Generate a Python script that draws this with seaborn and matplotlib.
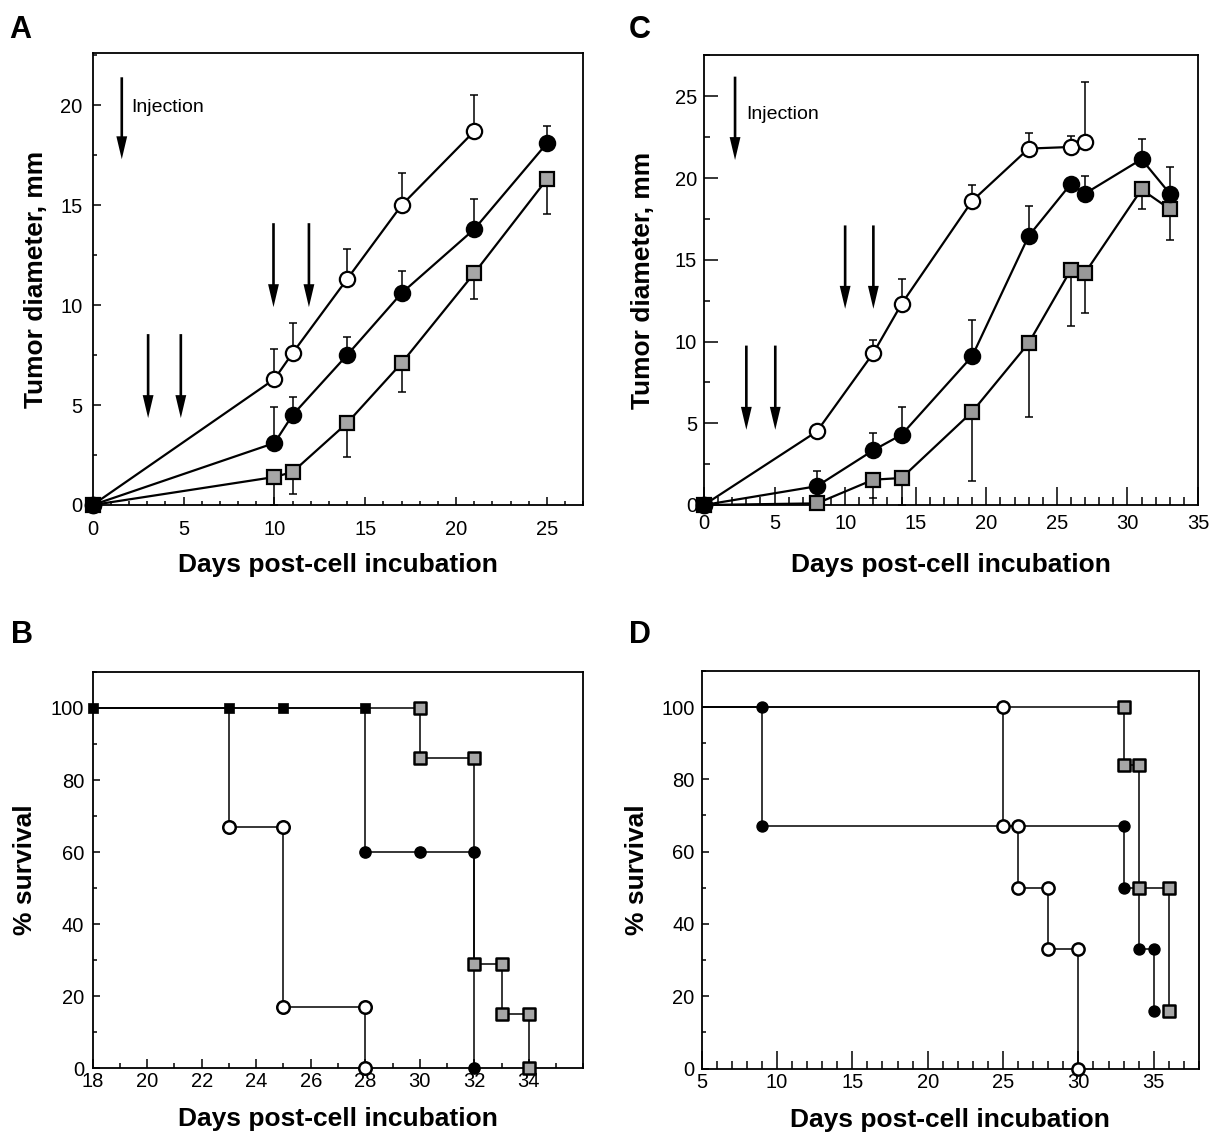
import matplotlib
matplotlib.use("Agg")
import matplotlib.pyplot as plt
from matplotlib.ticker import MultipleLocator
import numpy as np
import seaborn as sns

# ---- data: panel A (tumor growth) ----
a_days_open = [0, 10, 11, 14, 17, 21]
a_open = [0, 6.3, 7.6, 11.3, 15.0, 18.7]
a_open_err = [0, 1.5, 1.5, 1.5, 1.6, 1.8]
a_days = [0, 10, 11, 14, 17, 21, 25]
a_fill = [0, 3.1, 4.5, 7.5, 10.6, 13.8, 18.1]
a_fill_err = [0, 1.8, 0.9, 0.9, 1.1, 1.5, 0.85]
a_sq = [0, 1.4, 1.65, 4.1, 7.1, 11.6, 16.3]
a_sq_err = [0, 1.4, 1.1, 1.7, 1.45, 1.3, 1.75]

# ---- data: panel C (tumor growth) ----
c_days_open = [0, 8, 12, 14, 19, 23, 26, 27]
c_open = [0, 4.5, 9.3, 12.3, 18.6, 21.8, 21.9, 22.2]
c_open_err = [0, 0, 0.8, 1.5, 1.0, 0.95, 0.7, 3.7]
c_days = [0, 8, 12, 14, 19, 23, 26, 27, 31, 33]
c_fill = [0, 1.15, 3.35, 4.3, 9.1, 16.45, 19.65, 19.05, 21.15, 19.05]
c_fill_err = [0, 0.9, 1.05, 1.7, 2.2, 1.85, 0, 1.1, 1.25, 1.65]
c_sq = [0, 0.1, 1.55, 1.65, 5.7, 9.9, 14.4, 14.2, 19.3, 18.1]
c_sq_err = [0, 0, 1.1, 1.65, 4.25, 4.5, 3.45, 2.45, 1.2, 1.9]

# injection arrows (day, top, tip)
a_inj = [(1.6, 21.4, 17.3), (3.05, 8.55, 4.35), (4.85, 8.55, 4.35),
         (9.95, 14.1, 9.9), (11.9, 14.1, 9.9)]
c_inj = [(2.2, 26.2, 21.1), (3.0, 9.75, 4.6), (5.05, 9.75, 4.6),
         (10.0, 17.1, 12.0), (12.0, 17.1, 12.0)]

# ---- data: panel B (survival) ----
b_open_t = [18, 23, 25, 28]
b_open_s = [100, 67, 17, 0]
b_open_mx = [23, 25, 25, 28, 28]
b_open_my = [67, 67, 17, 17, 0]
b_fill_t = [18, 28, 32]
b_fill_s = [100, 60, 0]
b_fill_mx = [28, 30, 32, 32]
b_fill_my = [60, 60, 60, 0]
b_sq_t = [18, 30, 32, 33, 34]
b_sq_s = [100, 86, 29, 15, 0]
b_sq_mx = [30, 30, 32, 32, 33, 33, 34, 34]
b_sq_my = [100, 86, 86, 29, 29, 15, 15, 0]
b_top_mx = [18, 23, 25, 28]
b_top_my = [100, 100, 100, 100]

# ---- data: panel D (survival) ----
d_fill_t = [5, 9, 33, 34, 35]
d_fill_s = [100, 67, 50, 33, 16]
d_fill_mx = [9, 9, 33, 33, 34, 35, 35]
d_fill_my = [100, 67, 67, 50, 33, 33, 16]
d_open_t = [5, 25, 26, 28, 30]
d_open_s = [100, 67, 50, 33, 0]
d_open_mx = [25, 25, 26, 26, 28, 28, 30, 30]
d_open_my = [100, 67, 67, 50, 50, 33, 33, 0]
d_sq_t = [5, 33, 34, 36]
d_sq_s = [100, 84, 50, 16]
d_sq_mx = [33, 33, 34, 34, 36, 36]
d_sq_my = [100, 84, 84, 50, 50, 16]

sns.set_theme(style="ticks")
plt.rcParams["font.family"] = ["Liberation Sans", "DejaVu Sans"]
plt.rcParams["axes.linewidth"] = 1.3
plt.rcParams["text.color"] = "black"
plt.rcParams["axes.labelcolor"] = "black"
plt.rcParams["xtick.color"] = "black"
plt.rcParams["ytick.color"] = "black"

W, H = 1217, 1137
fig = plt.figure(figsize=(W / 100, H / 100), dpi=100)


def px_axes(left, right, top, bottom):
    return fig.add_axes([left / W, 1 - bottom / H, (right - left) / W, (bottom - top) / H])


axA = px_axes(92.7, 583.3, 53.3, 505)
axC = px_axes(704, 1198, 55.4, 505)
axB = px_axes(92.7, 583.3, 671.9, 1068.3)
axD = px_axes(701.6, 1199, 670.9, 1068.5)

TICK_FS = 14.5
LABEL_FS = 19
SQ_GRAY = "#a6a6a6"


def growth_series(ax, x, y, err, kind, sq_color=SQ_GRAY):
    x = np.asarray(x, float)
    y = np.asarray(y, float)
    err = np.asarray(err, float)
    if kind == "square":
        yerr = [err, np.zeros_like(err)]
        mk = dict(marker="s", markersize=9.5, markerfacecolor=sq_color)
        z = 3
    elif kind == "open":
        yerr = [np.zeros_like(err), err]
        mk = dict(marker="o", markersize=11, markerfacecolor="white")
        z = 3.2
    else:
        yerr = [np.zeros_like(err), err]
        mk = dict(marker="o", markersize=11, markerfacecolor="black")
        z = 3.4
    show = err > 0
    ax.errorbar(x[show], y[show], yerr=[yerr[0][show], yerr[1][show]], fmt="none",
                ecolor="black", elinewidth=1.1, capsize=3, capthick=1.1, zorder=2)
    sns.lineplot(x=x, y=y, ax=ax, color="black", lw=1.6, sort=False, estimator=None,
                 markeredgecolor="black", markeredgewidth=1.6, zorder=z, clip_on=False, **mk)


def arrows(ax, items):
    for x, top, tip in items:
        ax.annotate("", xy=(x, tip), xytext=(x, top),
                    arrowprops=dict(width=1.9, headwidth=7.8, headlength=16.5,
                                    facecolor="black", edgecolor="none", shrink=0))


def survival_series(ax, t, s, mx, my, kind, ms=9):
    sns.lineplot(x=t, y=s, ax=ax, color="black", lw=1.1, drawstyle="steps-post",
                 sort=False, estimator=None, zorder=2)
    if kind == "square":
        st = dict(marker="s", s=(ms * 0.92) ** 2, color=SQ_GRAY, edgecolor="black", linewidth=1.8)
    elif kind == "open":
        st = dict(marker="o", s=ms ** 2, color="white", edgecolor="black", linewidth=1.8)
    else:
        st = dict(marker="o", s=(ms * 0.9) ** 2, color="black", edgecolor="black", linewidth=1.0)
    sns.scatterplot(x=mx, y=my, ax=ax, zorder=4, clip_on=False, legend=False, **st)


def style_axes(ax, xmaj_len, xmin_len, ymaj_len, ymin_len, xpad, ypad):
    ax.tick_params(which="both", direction="in", top=False, right=False,
                   labelsize=TICK_FS, width=1.1, colors="black")
    ax.tick_params(axis="x", which="major", length=xmaj_len, pad=xpad)
    ax.tick_params(axis="x", which="minor", length=xmin_len)
    ax.tick_params(axis="y", which="major", length=ymaj_len, pad=ypad)
    ax.tick_params(axis="y", which="minor", length=ymin_len)
    for sp in ax.spines.values():
        sp.set_visible(True)
        sp.set_color("black")
        sp.set_linewidth(1.3)
    ax.set_facecolor("white")


def set_labels(ax, xlabel, ylabel, xl_y, yl_x):
    ax.set_xlabel(xlabel, fontsize=LABEL_FS, fontweight="bold", color="black")
    ax.set_ylabel(ylabel, fontsize=LABEL_FS, fontweight="bold", color="black")
    ax.xaxis.label.set_va("baseline")
    ax.xaxis.set_label_coords(0.5, xl_y)
    ax.yaxis.label.set_va("center")
    ax.yaxis.set_label_coords(yl_x, 0.5)


# ---- panel A ----
growth_series(axA, a_days, a_sq, a_sq_err, "square")
growth_series(axA, a_days_open, a_open, a_open_err, "open")
growth_series(axA, a_days, a_fill, a_fill_err, "filled")
arrows(axA, a_inj)
axA.text(2.1, 19.9, "Injection", fontsize=14, va="center", ha="left", color="black")
axA.set_xlim(0, 27)
axA.set_ylim(0, 22.6)
axA.xaxis.set_major_locator(MultipleLocator(5))
axA.xaxis.set_minor_locator(MultipleLocator(1))
axA.yaxis.set_major_locator(MultipleLocator(5))
axA.yaxis.set_minor_locator(MultipleLocator(2.5))
style_axes(axA, 5.5, 3, 5.5, 3, 11, 7.5)
set_labels(axA, "Days post-cell incubation", "Tumor diameter, mm", -0.149, -0.115)

# ---- panel C ----
growth_series(axC, c_days, c_sq, c_sq_err, "square", sq_color="#999999")
growth_series(axC, c_days_open, c_open, c_open_err, "open")
growth_series(axC, c_days, c_fill, c_fill_err, "filled")
arrows(axC, c_inj)
axC.text(2.97, 23.9, "Injection", fontsize=14, va="center", ha="left", color="black")
axC.set_xlim(0, 35)
axC.set_ylim(0, 27.5)
axC.xaxis.set_major_locator(MultipleLocator(5))
axC.xaxis.set_minor_locator(MultipleLocator(1))
axC.yaxis.set_major_locator(MultipleLocator(5))
axC.yaxis.set_minor_locator(MultipleLocator(2.5))
style_axes(axC, 13, 5.5, 10, 4, 6.5, 5)
set_labels(axC, "Days post-cell incubation", "Tumor diameter, mm", -0.149, -0.123)

# ---- panel B ----
survival_series(axB, b_sq_t, b_sq_s, b_sq_mx, b_sq_my, "square")
survival_series(axB, b_fill_t, b_fill_s, b_fill_mx, b_fill_my, "filled")
survival_series(axB, b_open_t, b_open_s, b_open_mx, b_open_my, "open")
sns.scatterplot(x=b_top_mx, y=b_top_my, ax=axB, marker="s", s=60, color="black",
                edgecolor="black", linewidth=0.5, zorder=5, clip_on=False, legend=False)
axB.set_xlim(18, 36)
axB.set_ylim(0, 110)
axB.set_xticks([18, 20, 22, 24, 26, 28, 30, 32, 34])
axB.xaxis.set_minor_locator(MultipleLocator(1))
axB.yaxis.set_major_locator(MultipleLocator(20))
axB.yaxis.set_minor_locator(MultipleLocator(10))
style_axes(axB, 6.5, 3.5, 5, 3, 3, 6)
set_labels(axB, "Days post-cell incubation", "% survival", -0.146, -0.138)

# ---- panel D ----
survival_series(axD, d_fill_t, d_fill_s, d_fill_mx, d_fill_my, "filled", ms=8.8)
survival_series(axD, d_open_t, d_open_s, d_open_mx, d_open_my, "open", ms=8.8)
survival_series(axD, d_sq_t, d_sq_s, d_sq_mx, d_sq_my, "square", ms=8.8)
axD.set_xlim(5, 38)
axD.set_ylim(0, 110)
axD.xaxis.set_major_locator(MultipleLocator(5))
axD.xaxis.set_minor_locator(MultipleLocator(1))
axD.yaxis.set_major_locator(MultipleLocator(20))
axD.yaxis.set_minor_locator(MultipleLocator(10))
style_axes(axD, 13, 6, 5, 3, 3, 5)
set_labels(axD, "Days post-cell incubation", "% survival", -0.146, -0.130)

# panel letters
for letter, x, y in [("A", 9, 38), ("C", 629, 37.5), ("B", 11, 643), ("D", 629, 643)]:
    fig.text(x / W, 1 - y / H, letter, fontsize=22, fontweight="bold", ha="left",
             va="baseline", color="black")

fig.savefig("out.png", dpi=100, facecolor="white")
